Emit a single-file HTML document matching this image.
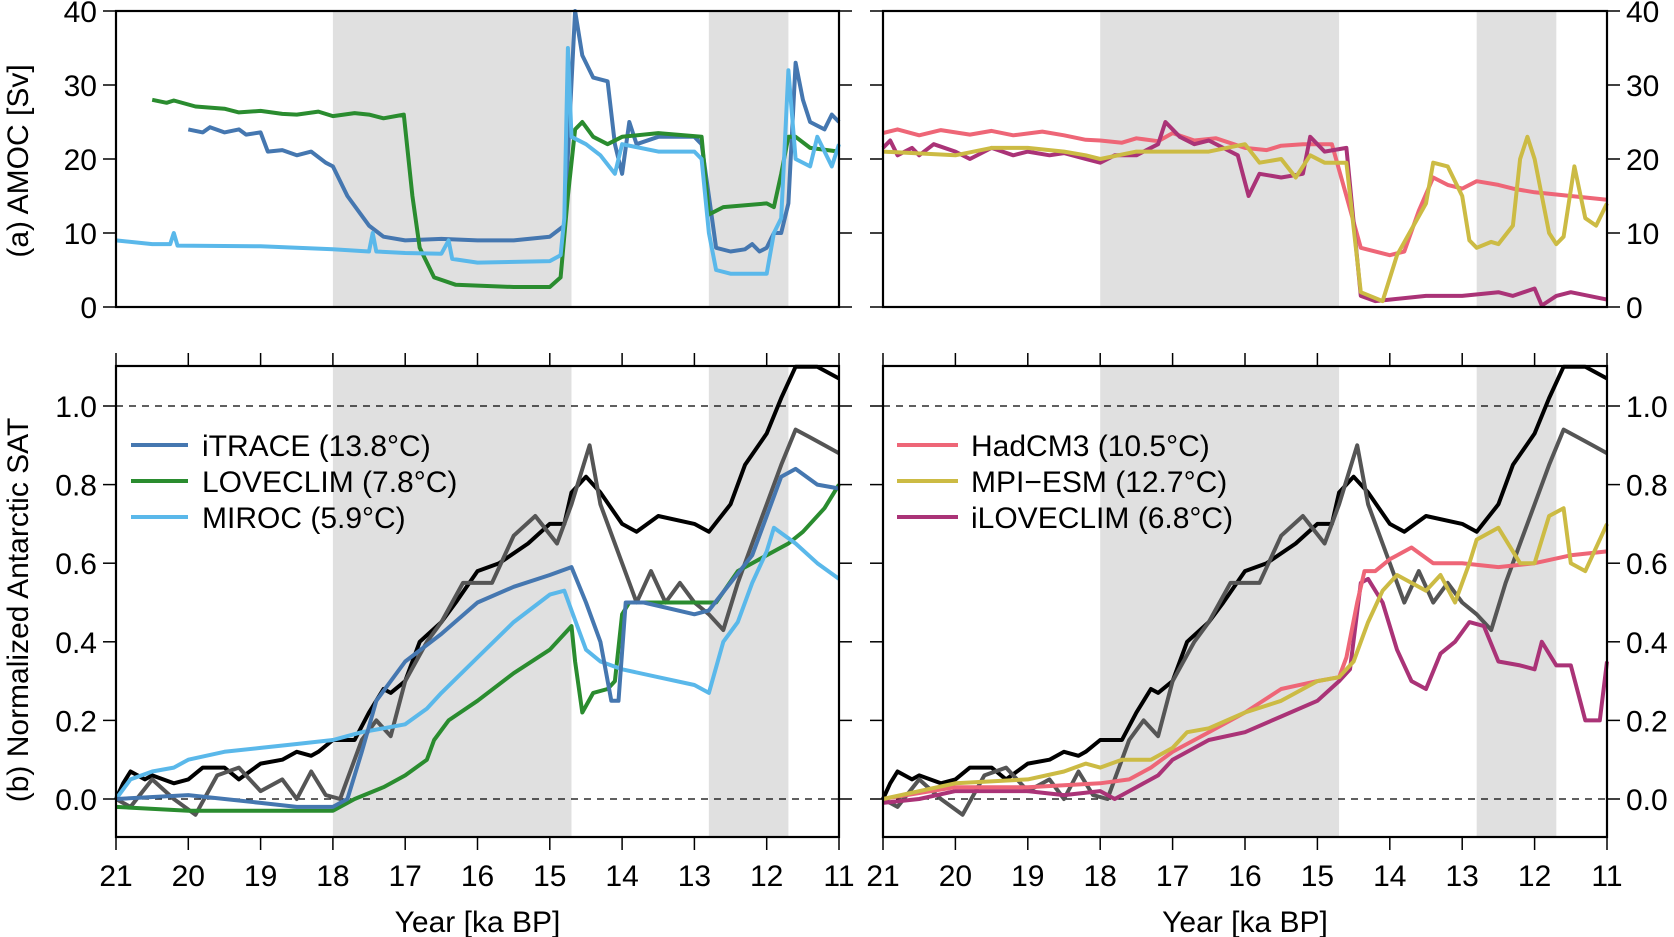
<!DOCTYPE html>
<html><head><meta charset="utf-8"><style>
body{margin:0;background:#fff}
svg{display:block;font-family:"Liberation Sans",Arial,sans-serif}
</style></head><body>
<svg id="c" width="1674" height="937" viewBox="0 0 1674 937"></svg>
<script>
// ---- data ----
const amocItrace=[[20,24],[19.8,23.6],[19.7,24.3],[19.5,23.6],[19.3,24],[19.2,23.3],[19.0,23.6],[18.9,21],[18.7,21.2],[18.5,20.5],[18.3,21],[18.1,19.5],[18.0,19],[17.8,15],[17.5,11],[17.3,9.5],[17.0,9],[16.5,9.2],[16.0,9],[15.5,9],[15.0,9.5],[14.8,11],[14.65,40],[14.55,34],[14.4,31],[14.2,30.5],[14.1,22],[14.0,18],[13.9,25],[13.8,22],[13.5,23],[13.0,23],[12.9,22],[12.8,15],[12.7,8],[12.5,7.5],[12.3,7.8],[12.2,8.5],[12.1,7.5],[12.0,8],[11.9,10],[11.8,10],[11.7,14],[11.6,33],[11.5,28],[11.4,25],[11.2,24],[11.1,26],[11.0,25]];
const amocLoveclim=[[20.5,28],[20.3,27.6],[20.2,27.9],[19.9,27.1],[19.5,26.8],[19.3,26.3],[19.0,26.5],[18.7,26.1],[18.5,26],[18.2,26.4],[18,25.8],[17.7,26.2],[17.5,26],[17.3,25.5],[17.02,26],[16.9,15],[16.8,8],[16.6,4],[16.3,3],[15.5,2.7],[15.0,2.7],[14.85,4],[14.75,15],[14.65,24],[14.55,25],[14.4,23],[14.2,22],[14.0,23],[13.5,23.5],[12.9,23],[12.8,12.5],[12.6,13.5],[12.0,14],[11.9,13.5],[11.8,18],[11.7,23],[11.6,23],[11.4,21.5],[11.0,21]];
const amocMiroc=[[21,9],[20.5,8.5],[20.25,8.5],[20.2,10],[20.15,8.3],[19,8.2],[18,7.8],[17.5,7.5],[17.45,10],[17.4,7.5],[17.0,7.3],[16.5,7.2],[16.4,9],[16.35,6.5],[16.0,6],[15.0,6.2],[14.85,7],[14.8,12],[14.75,35],[14.7,23],[14.5,22],[14.3,20.5],[14.1,18],[14.0,22],[13.5,21],[13.0,21],[12.9,20],[12.8,10],[12.7,5],[12.5,4.5],[12.0,4.5],[11.9,10],[11.8,12],[11.7,32],[11.6,20],[11.4,19],[11.3,23],[11.1,19],[11.0,22]];
const amocHadcm3=[[21,23.5],[20.8,24],[20.5,23.2],[20.2,23.9],[19.8,23.3],[19.5,23.8],[19.2,23.2],[18.8,23.7],[18.5,23.2],[18.2,22.6],[18,22.5],[17.7,22.2],[17.5,22.8],[17.2,22.4],[17,23.5],[16.7,22.5],[16.4,22.8],[16,21.5],[15.7,21.2],[15.5,21.8],[15.2,22],[15,22],[14.8,22],[14.6,15],[14.4,8],[14.0,7],[13.8,7.5],[13.6,13],[13.4,17.5],[13.2,16.5],[13.0,16],[12.8,17],[12.5,16.5],[12.3,16],[12,15.5],[11.5,15],[11.0,14.5]];
const amocMpi=[[21,21],[20,20.5],[19.5,21.5],[19,21.5],[18.5,21],[18.2,20.5],[18,20],[17.5,21],[17,21],[16.5,21],[16,22],[15.8,19.5],[15.5,20],[15.3,17.5],[15.1,20.5],[14.9,19.5],[14.6,19.5],[14.4,2],[14.1,0.8],[13.9,7],[13.5,14],[13.4,19.5],[13.2,19],[13.0,15],[12.9,9],[12.8,8],[12.6,8.8],[12.5,8.5],[12.3,11],[12.2,20],[12.1,23],[12.0,20],[11.8,10],[11.7,8.5],[11.6,9.5],[11.45,19],[11.3,12],[11.15,11],[11.0,14]];
const amocIlove=[[21,21.5],[20.9,22.5],[20.8,20.5],[20.6,21.5],[20.5,20.5],[20.3,22],[20,21],[19.8,20],[19.5,21.5],[19.2,20.5],[19,21],[18.7,20.5],[18.5,20.8],[18.2,20],[18,19.5],[17.8,20.5],[17.5,20.5],[17.2,22],[17.1,25],[16.9,23],[16.7,22],[16.5,22.5],[16.3,21.5],[16.1,20.5],[15.95,15],[15.8,18],[15.5,17.5],[15.2,18],[15.1,23],[14.9,21],[14.6,21.5],[14.4,1.5],[14.2,0.8],[14.0,1],[13.5,1.5],[13.0,1.5],[12.5,2],[12.3,1.5],[12.0,2.5],[11.9,0.2],[11.7,1.5],[11.5,2],[11.0,1]];
const satBlack=[[21,0],[20.9,0.04],[20.8,0.07],[20.6,0.05],[20.5,0.06],[20.2,0.04],[20,0.05],[19.8,0.08],[19.5,0.08],[19.3,0.05],[19,0.09],[18.7,0.1],[18.5,0.12],[18.3,0.11],[18.2,0.12],[18,0.15],[17.7,0.15],[17.5,0.22],[17.3,0.28],[17.2,0.27],[17,0.3],[16.8,0.4],[16.5,0.45],[16.3,0.5],[16.0,0.58],[15.7,0.6],[15.3,0.65],[15.0,0.7],[14.8,0.7],[14.7,0.78],[14.5,0.82],[14.3,0.78],[14.0,0.7],[13.8,0.68],[13.5,0.72],[13.0,0.7],[12.8,0.68],[12.5,0.75],[12.3,0.85],[12.0,0.93],[11.8,1.02],[11.6,1.1],[11.3,1.1],[11.0,1.07]];
const satGrey=[[21,0],[20.8,-0.02],[20.5,0.05],[20.2,0.0],[19.9,-0.04],[19.6,0.06],[19.3,0.08],[19.0,0.02],[18.7,0.05],[18.5,0.0],[18.3,0.07],[18.1,0.01],[17.9,0.0],[17.6,0.15],[17.4,0.2],[17.2,0.16],[17.0,0.3],[16.7,0.4],[16.5,0.45],[16.2,0.55],[15.8,0.55],[15.5,0.67],[15.2,0.72],[14.9,0.65],[14.7,0.75],[14.45,0.9],[14.3,0.75],[14.0,0.6],[13.8,0.5],[13.6,0.58],[13.4,0.5],[13.2,0.55],[13.0,0.5],[12.8,0.47],[12.6,0.43],[12.4,0.55],[12.2,0.65],[12.0,0.75],[11.8,0.85],[11.6,0.94],[11.4,0.92],[11.2,0.9],[11.0,0.88]];
const satItrace=[[21,0],[20,0.01],[19,-0.01],[18.5,-0.02],[18,-0.02],[17.8,0.0],[17.6,0.12],[17.4,0.25],[17.0,0.35],[16.5,0.42],[16.0,0.5],[15.5,0.54],[15.0,0.57],[14.7,0.59],[14.5,0.5],[14.3,0.4],[14.15,0.25],[14.05,0.25],[13.95,0.5],[13.7,0.5],[13.0,0.47],[12.8,0.48],[12.5,0.55],[12.2,0.62],[12.0,0.72],[11.8,0.82],[11.6,0.84],[11.3,0.8],[11.0,0.79]];
const satLoveclim=[[21,-0.02],[20,-0.03],[19,-0.03],[18.5,-0.03],[18,-0.03],[17.7,0.0],[17.3,0.03],[17.0,0.06],[16.7,0.1],[16.6,0.15],[16.4,0.2],[16.0,0.25],[15.5,0.32],[15.0,0.38],[14.7,0.44],[14.65,0.35],[14.55,0.22],[14.4,0.27],[14.2,0.28],[14.1,0.3],[14.0,0.47],[13.9,0.5],[13.5,0.5],[13.0,0.5],[12.7,0.5],[12.4,0.58],[12.0,0.62],[11.7,0.65],[11.5,0.68],[11.2,0.74],[11.0,0.8]];
const satMiroc=[[21,0],[20.8,0.05],[20.5,0.07],[20.2,0.08],[20,0.1],[19.5,0.12],[19,0.13],[18.5,0.14],[18,0.15],[17.8,0.16],[17.6,0.17],[17.3,0.18],[17.0,0.19],[16.7,0.23],[16.5,0.27],[16.0,0.36],[15.5,0.45],[15.0,0.52],[14.8,0.53],[14.7,0.48],[14.5,0.38],[14.3,0.35],[14.0,0.33],[13.5,0.31],[13.0,0.29],[12.8,0.27],[12.6,0.4],[12.4,0.45],[12.2,0.55],[12.0,0.63],[11.9,0.69],[11.6,0.65],[11.3,0.6],[11.0,0.56]];
const satHadcm3=[[21,0],[20,0.03],[19,0.03],[18,0.04],[17.6,0.05],[17.3,0.08],[17,0.12],[16.5,0.17],[16.0,0.22],[15.5,0.28],[15.0,0.3],[14.7,0.31],[14.6,0.36],[14.45,0.5],[14.35,0.58],[14.2,0.58],[14.0,0.61],[13.7,0.64],[13.4,0.6],[13.0,0.6],[12.5,0.59],[12.0,0.6],[11.5,0.62],[11.0,0.63]];
const satMpi=[[21,0],[20,0.04],[19,0.05],[18.5,0.07],[18.2,0.09],[18,0.08],[17.7,0.1],[17.3,0.1],[17,0.13],[16.8,0.17],[16.5,0.18],[16.0,0.22],[15.5,0.25],[15.0,0.3],[14.7,0.31],[14.5,0.35],[14.3,0.45],[14.1,0.53],[13.9,0.57],[13.7,0.55],[13.5,0.53],[13.3,0.57],[13.1,0.5],[12.9,0.6],[12.8,0.66],[12.5,0.69],[12.3,0.63],[12.2,0.6],[12.0,0.6],[11.8,0.72],[11.6,0.74],[11.5,0.6],[11.3,0.58],[11.0,0.7]];
const satIlove=[[21,-0.01],[20.5,0.0],[20.0,0.02],[19,0.02],[18.5,0.01],[18,0.02],[17.8,0.0],[17.5,0.03],[17.2,0.06],[17,0.1],[16.5,0.15],[16,0.17],[15.5,0.21],[15,0.25],[14.7,0.3],[14.55,0.33],[14.4,0.55],[14.3,0.56],[14.1,0.5],[13.9,0.38],[13.7,0.3],[13.5,0.28],[13.3,0.37],[13.1,0.4],[12.9,0.45],[12.7,0.44],[12.5,0.35],[12.2,0.34],[12.0,0.33],[11.9,0.4],[11.7,0.34],[11.5,0.34],[11.3,0.2],[11.1,0.2],[11.0,0.35]];
const xTicks=[21,20,19,18,17,16,15,14,13,12,11];
const amocTicks=[0,10,20,30,40];
const satTicks=["0.0","0.2","0.4","0.6","0.8","1.0"];
const shadeIntervals=[[18,14.7],[12.8,11.7]];
const legendLeft=["iTRACE (13.8°C)","LOVECLIM (7.8°C)","MIROC (5.9°C)"];
const legendRight=["HadCM3 (10.5°C)","MPI−ESM (12.7°C)","iLOVECLIM (6.8°C)"];

const NS="http://www.w3.org/2000/svg", svg=document.getElementById('c');
function el(t,a,p){const e=document.createElementNS(NS,t);for(const k in a)e.setAttribute(k,a[k]);(p||svg).appendChild(e);return e;}
const panelsX=[[116,839],[883,1607]];
const topY=[11,307], botY=[366,837];
const C={itrace:"#4577b0",love:"#2a8c2f",miroc:"#5ab8ea",had:"#ee6677",mpi:"#ccbb44",ilove:"#aa3377"};
function xs(px,v){return px[0]+(21-v)/10*(px[1]-px[0]);}
function ysA(v){return topY[1]-v/40*(topY[1]-topY[0]);}
function ysB(v){return 799-v*393;}
function line(data,px,ys,color,name){
  const d=data.map((p,i)=>(i?'L':'M')+xs(px,p[0]).toFixed(1)+','+ys(p[1]).toFixed(1)).join('');
  const e=el('path',{d:d,fill:'none',stroke:color,'stroke-width':4,'stroke-linejoin':'round'});
  
  
}
[0,1].forEach(pi=>{
  const px=panelsX[pi];
  [topY,botY].forEach(py=>{
    shadeIntervals.forEach(s=>{
      const r=el('rect',{x:xs(px,s[0]),y:py[0],width:xs(px,s[1])-xs(px,s[0]),height:py[1]-py[0],fill:'#e0e0e0'});
      
      
    });
  });
  [0,1].forEach(v=>{el('line',{x1:px[0],x2:px[1],y1:ysB(v),y2:ysB(v),stroke:'#000','stroke-width':1.2,'stroke-dasharray':'7,6'});});
});
line(amocItrace,panelsX[0],ysA,C.itrace,'amoc-itrace');
line(amocLoveclim,panelsX[0],ysA,C.love,'amoc-loveclim');
line(amocMiroc,panelsX[0],ysA,C.miroc,'amoc-miroc');
line(amocHadcm3,panelsX[1],ysA,C.had,'amoc-hadcm3');
line(amocIlove,panelsX[1],ysA,C.ilove,'amoc-iloveclim');
line(amocMpi,panelsX[1],ysA,C.mpi,'amoc-mpi-esm');
[0,1].forEach(pi=>{
  line(satBlack,panelsX[pi],ysB,'#000','sat-reference-black');
  line(satGrey,panelsX[pi],ysB,'#555','sat-reference-grey');
});
line(satLoveclim,panelsX[0],ysB,C.love,'sat-loveclim');
line(satMiroc,panelsX[0],ysB,C.miroc,'sat-miroc');
line(satItrace,panelsX[0],ysB,C.itrace,'sat-itrace');
line(satIlove,panelsX[1],ysB,C.ilove,'sat-iloveclim');
line(satHadcm3,panelsX[1],ysB,C.had,'sat-hadcm3');
line(satMpi,panelsX[1],ysB,C.mpi,'sat-mpi-esm');

function txt(x,y,s,anchor,name,extra){
  const t=el('text',Object.assign({x:x,y:y,'font-size':30,'text-anchor':anchor||'start',fill:'#000'},extra||{}));
  t.textContent=s;
  
  
  return t;
}
[0,1].forEach(pi=>{
  const px=panelsX[pi];
  [topY,botY].forEach(py=>{
    el('rect',{x:px[0],y:py[0],width:px[1]-px[0],height:py[1]-py[0],fill:'none',stroke:'#000','stroke-width':2.2});
  });
  xTicks.forEach(v=>{
    const x=xs(px,v);
    el('line',{x1:x,x2:x,y1:botY[0],y2:botY[0]-13,stroke:'#000','stroke-width':1.5});
    el('line',{x1:x,x2:x,y1:botY[1],y2:botY[1]+13,stroke:'#000','stroke-width':1.5});
    txt(x,886,String(v),'middle','x-tick-label');
  });
  txt((px[0]+px[1])/2,932,'Year [ka BP]','middle','x-axis-title');
  amocTicks.forEach(v=>{
    const y=ysA(v);
    el('line',{x1:px[0]-13,x2:px[0],y1:y,y2:y,stroke:'#000','stroke-width':1.5});
    el('line',{x1:px[1],x2:px[1]+13,y1:y,y2:y,stroke:'#000','stroke-width':1.5});
  });
  satTicks.forEach(s=>{
    const y=ysB(parseFloat(s));
    el('line',{x1:px[0]-13,x2:px[0],y1:y,y2:y,stroke:'#000','stroke-width':1.5});
    el('line',{x1:px[1],x2:px[1]+13,y1:y,y2:y,stroke:'#000','stroke-width':1.5});
  });
});
amocTicks.forEach(v=>{
  txt(97,ysA(v)+11,String(v),'end','amoc-tick-left');
  txt(1626,ysA(v)+11,String(v),'start','amoc-tick-right');
});
satTicks.forEach(s=>{
  txt(97,ysB(parseFloat(s))+11,s,'end','sat-tick-left');
  txt(1626,ysB(parseFloat(s))+11,s,'start','sat-tick-right');
});
txt(0,0,'(a) AMOC [Sv]','middle','y-axis-title-amoc',{transform:'translate(28,161) rotate(-90)'});
txt(0,0,'(b) Normalized Antarctic SAT','middle','y-axis-title-sat',{transform:'translate(28,610) rotate(-90)'});
const ly=[445,481,517];
[[legendLeft,[C.itrace,C.love,C.miroc],131,188,202],[legendRight,[C.had,C.mpi,C.ilove],897,958,971]].forEach(([labs,cols,a,b,tx])=>{
  labs.forEach((s,i)=>{
    const l=el('line',{x1:a,x2:b,y1:ly[i],y2:ly[i],stroke:cols[i],'stroke-width':4});
    
    
    txt(tx,ly[i]+11,s,'start','legend-entry');
  });
});
</script>
</body></html>
